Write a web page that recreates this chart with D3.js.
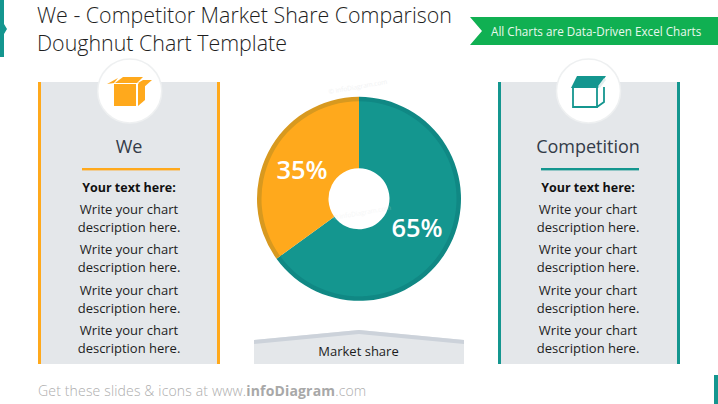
<!DOCTYPE html>
<html><head><meta charset="utf-8">
<script src="https://cdnjs.cloudflare.com/ajax/libs/d3/7.8.5/d3.min.js"></script>
<style>html,body{margin:0;padding:0;background:#fff;overflow:hidden}svg{display:block}text{font-family:"Open Sans",sans-serif}</style>
</head><body><svg id="c" width="718" height="404"></svg>
<script>
const categories = ["We", "Competition"];
const shareValues = [35, 65];
const seriesName = "Market share";
const titleLines = ["We - Competitor Market Share Comparison", "Doughnut Chart Template"];
const bannerText = "All Charts are Data-Driven Excel Charts";
const panelHeading = "Your text here:";
const panelLine1 = "Write your chart";
const panelLine2 = "description here.";
const panelRepeats = [0, 1, 2, 3];

const ORANGE = "#ffa91c", ORANGE_D = "#d8991f", TEAL = "#14968f", TEAL_D = "#108884", GREY = "#e4e7ea";
const svg = d3.select("#c");

// slide furniture
svg.append("path").attr("d","M0 0H4V24L7 29L4 34V57H0Z").attr("fill",TEAL);
svg.append("rect").attr("x",714).attr("y",375).attr("width",4).attr("height",29).attr("fill",TEAL);

svg.selectAll("text.title").data(titleLines).join("text").attr("class","title")
  .attr("x",37).attr("y",(d,i)=>23+i*28).attr("font-size",21.4).attr("font-weight",300).attr("fill","#1e1e1e").text(d=>d);

svg.append("path").attr("d","M470 17H718V45H470L482 31Z").attr("fill","#10b052");
svg.append("text").attr("x",491).attr("y",35.5).attr("font-size",11.7).attr("fill","#e8f8ee").text(bannerText);

// panels
const panels = [
  {name:categories[0], x:38, color:ORANGE, cx:129},
  {name:categories[1], x:498, color:TEAL, cx:588}
];
panels.forEach((p,pi)=>{
  const g = svg.append("g");
  g.append("rect").attr("x",p.x).attr("y",82).attr("width",182).attr("height",282).attr("fill",GREY);
  g.append("rect").attr("x",p.x).attr("y",82).attr("width",3).attr("height",282).attr("fill",p.color);
  g.append("rect").attr("x",p.x+179).attr("y",82).attr("width",3).attr("height",282).attr("fill",p.color);
  g.append("circle").attr("cx",pi?588.5:129.7).attr("cy",91).attr("r",32).attr("fill","#fff").attr("stroke","#eef0f1").attr("stroke-width",1.5);
  g.append("text").attr("x",p.cx).attr("y",153).attr("text-anchor","middle").attr("font-size",18).attr("fill","#333b48").text(p.name);
  g.append("rect").attr("x",p.cx-47).attr("y",168).attr("width",98).attr("height",2.4).attr("fill",p.color);
  g.append("text").attr("x",p.cx).attr("y",192).attr("text-anchor","middle").attr("font-size",12.5).attr("font-weight",700).attr("fill","#111").text(panelHeading);
  panelRepeats.forEach((k)=>{
    const y0 = 214 + k*40.4;
    g.append("text").attr("x",p.cx).attr("y",y0).attr("text-anchor","middle").attr("font-size",13).attr("fill","#1c1c1c").text(panelLine1);
    g.append("text").attr("x",p.cx).attr("y",y0+18).attr("text-anchor","middle").attr("font-size",13).attr("fill","#1c1c1c").text(panelLine2);
  });
});

// icons
const ic1 = svg.append("g").attr("fill",ORANGE);
ic1.append("path").attr("d","M114 84H136V106H114Z");
ic1.append("path").attr("d","M138 84L145 83V100L138 106Z");
ic1.append("path").attr("d","M123 77H143L137 83H115Z");
ic1.append("path").attr("d","M107 84L118 78L114 83Z");
ic1.append("path").attr("d","M143 80H152L143 88L138 83Z");
const ic2 = svg.append("g");
ic2.append("path").attr("d","M571 88L577 76H606L598 88Z").attr("fill",TEAL);
ic2.append("path").attr("d","M573 88V107H597V88M597 107L604 102V87").attr("fill","none").attr("stroke",TEAL).attr("stroke-width",1.8);
ic2.append("path").attr("d","M599 87L605 79").attr("stroke","#dfeeee").attr("stroke-width",2.6);

// doughnut
const cx=359, cy=198.8;
const pie = d3.pie().sort(null).value(d=>d.v).startAngle(0).endAngle(2*Math.PI);
const rows = [{k:categories[1],v:shareValues[1],c:TEAL,e:TEAL_D,lx:58,ly:38.5},{k:categories[0],v:shareValues[0],c:ORANGE,e:ORANGE_D,lx:-57,ly:-19.5}];
const arcBody = d3.arc().innerRadius(30.5).outerRadius(97.5);
const arcEdge = d3.arc().innerRadius(95).outerRadius(102);
const dg = svg.append("g").attr("transform",`translate(${cx},${cy})`);
const arcs = pie(rows);
dg.selectAll("path.e").data(arcs).join("path").attr("class","e").attr("d",arcEdge).attr("fill",d=>d.data.e);
dg.selectAll("path.b").data(arcs).join("path").attr("class","b").attr("d",arcBody).attr("fill",d=>d.data.c);
dg.selectAll("text").data(arcs).join("text").attr("x",d=>d.data.lx).attr("y",d=>d.data.ly)
  .attr("text-anchor","middle").attr("font-size",25.5).attr("font-weight",600).attr("fill","#fff").text(d=>d.data.v+"%");

// watermarks
svg.append("text").attr("transform","translate(329,94) rotate(-10)").attr("font-size",6.5).attr("fill","#f1f2f3").text("© infoDiagram.com");
svg.append("text").attr("transform","translate(333,220) rotate(-10)").attr("font-size",6.5).attr("fill","#dfe6e6").attr("opacity",0.3).text("© infoDiagram.com");

// category tag
svg.append("path").attr("d","M254 340L359 330L464 340V364H254Z").attr("fill",GREY);
svg.append("path").attr("d","M254 340L359 330L464 340V344L359 334L254 344Z").attr("fill","#ccd2da");
svg.append("text").attr("x",358.5).attr("y",356).attr("text-anchor","middle").attr("font-size",13).attr("fill","#1c1c1c").text(seriesName);

// footer
const ft = svg.append("text").attr("x",38).attr("y",396).attr("font-size",14).attr("font-weight",300).attr("letter-spacing",0.16).attr("fill","#adadad");
ft.append("tspan").text("Get these slides & icons at www.");
ft.append("tspan").attr("font-weight",700).attr("fill","#a8a8a8").text("infoDiagram");
ft.append("tspan").text(".com");
</script></body></html>
